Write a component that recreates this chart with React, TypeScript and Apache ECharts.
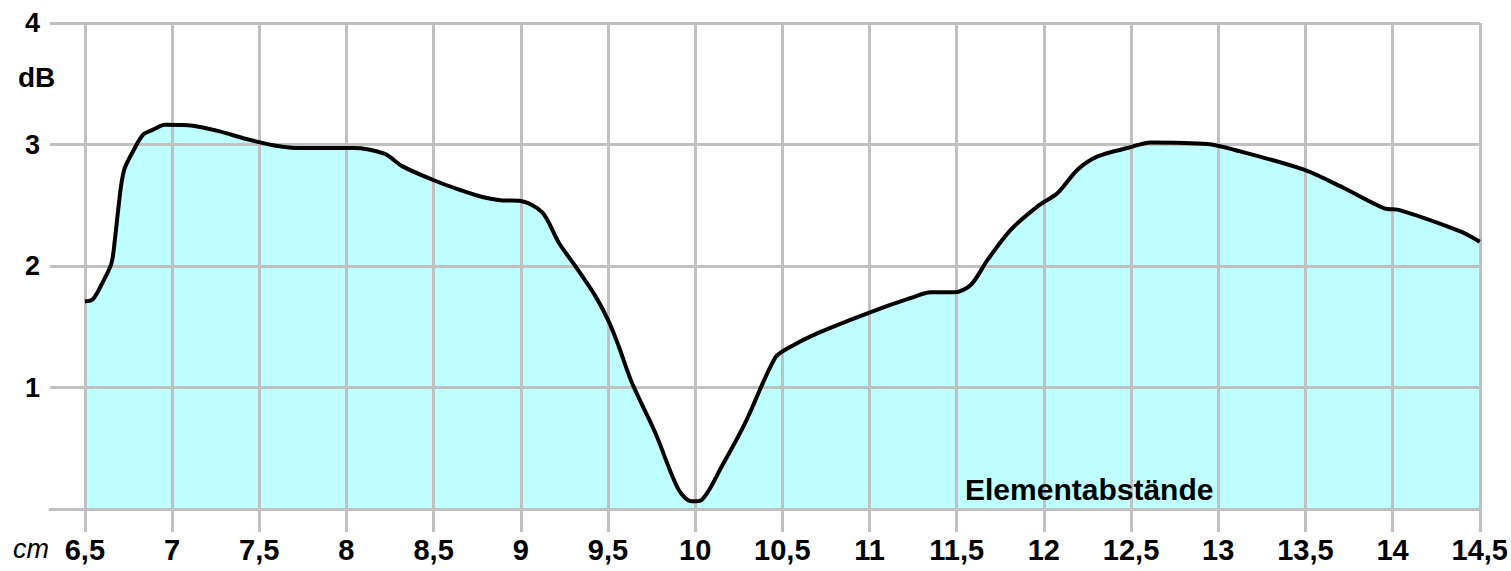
import React, { useEffect, useRef } from "react";
import * as echarts from "echarts";

const xValues = [
  6.5, 6.547, 6.605, 6.653, 6.672, 6.691, 6.71, 6.729, 6.776, 6.834, 6.891, 6.958,
  7.12, 7.273, 7.426, 7.597, 7.731, 8.036, 8.217, 8.322, 8.494, 8.646, 8.78, 8.894,
  8.99, 9.123, 9.219, 9.314, 9.429, 9.505, 9.562, 9.638, 9.772, 9.905, 9.981, 10.039,
  10.153, 10.287, 10.458, 10.534, 10.706, 10.992, 11.238, 11.353, 11.487, 11.582,
  11.678, 11.811, 11.964, 12.079, 12.193, 12.308, 12.479, 12.613, 12.937, 13.09,
  13.491, 13.72, 13.949, 14.045, 14.388, 14.5,
];
const dbValues = [
  1.709, 1.728, 1.873, 2.025, 2.216, 2.463, 2.683, 2.807, 2.943, 3.081, 3.122, 3.163,
  3.155, 3.108, 3.045, 2.99, 2.971, 2.971, 2.924, 2.82, 2.71, 2.628, 2.568, 2.54,
  2.537, 2.441, 2.189, 1.997, 1.75, 1.542, 1.338, 1.037, 0.626, 0.159, 0.063, 0.077,
  0.351, 0.708, 1.243, 1.325, 1.449, 1.613, 1.737, 1.783, 1.783, 1.846,
  2.052, 2.299, 2.491, 2.601, 2.793, 2.902, 2.971, 3.017, 3.004, 2.957,
  2.793, 2.642, 2.477, 2.458, 2.285, 2.2,
];
const xTicks = [6.5, 7, 7.5, 8, 8.5, 9, 9.5, 10, 10.5, 11, 11.5, 12, 12.5, 13, 13.5, 14, 14.5];

const FONT = "'Liberation Sans', Arial, sans-serif";
const GRID_COLOR = "#c0c0c0";

export default function App() {
  const ref = useRef<HTMLDivElement>(null);
  useEffect(() => {
    if (!ref.current) return;
    const chart = echarts.init(ref.current, null, { renderer: "svg" });
    const data = xValues.map((x, i) => [x, dbValues[i]]);
    chart.setOption({
      animation: false,
      backgroundColor: "#ffffff",
      grid: { left: 50, right: 28, top: 23, bottom: 62, containLabel: false },
      xAxis: {
        type: "value",
        min: 6.3,
        max: 14.5,
        z: 2,
        axisLine: { show: true, lineStyle: { color: GRID_COLOR, width: 3 } },
        axisTick: {
          show: true,
          length: 23,
          customValues: xTicks,
          lineStyle: { color: GRID_COLOR, width: 3 },
        },
        axisLabel: {
          customValues: xTicks,
          margin: 26,
          color: "#000",
          fontFamily: FONT,
          fontWeight: "bold",
          fontSize: 29,
          formatter: (v: number) => String(v).replace(".", ","),
        },
        splitLine: { show: true, lineStyle: { color: GRID_COLOR, width: 3 } },
      },
      yAxis: {
        type: "value",
        min: 0,
        max: 4,
        interval: 1,
        z: 2,
        axisLine: { show: false },
        axisTick: { show: false },
        axisLabel: {
          margin: 10,
          color: "#000",
          fontFamily: FONT,
          fontWeight: "bold",
          fontSize: 27,
          formatter: (v: number) => (v === 0 ? "" : String(v)),
        },
        splitLine: { show: true, lineStyle: { color: GRID_COLOR, width: 3 } },
      },
      series: [
        {
          type: "line",
          data,
          smooth: 0.3,
          showSymbol: false,
          z: 1,
          lineStyle: { width: 0, color: "#c0ffff" },
          areaStyle: { color: "#c0ffff", opacity: 1 },
          silent: true,
        },
        {
          type: "line",
          data,
          smooth: 0.3,
          showSymbol: false,
          z: 3,
          lineStyle: { width: 4, color: "#000" },
          silent: true,
        },
      ],
      graphic: [
        {
          type: "text",
          left: 18,
          top: 63,
          style: { text: "dB", font: `bold 28px ${FONT}`, fill: "#000" },
        },
        {
          type: "text",
          left: 13,
          top: 535,
          style: { text: "cm", font: `italic 27px ${FONT}`, fill: "#000" },
        },
        {
          type: "text",
          left: 965,
          top: 474,
          z: 10,
          style: { text: "Elementabstände", font: `bold 30px ${FONT}`, fill: "#000" },
        },
      ],
    });
    return () => chart.dispose();
  }, []);
  return (
    <div
      ref={ref}
      style={{ position: "fixed", left: 0, top: 0, width: 1511, height: 571, background: "#fff" }}
    />
  );
}
